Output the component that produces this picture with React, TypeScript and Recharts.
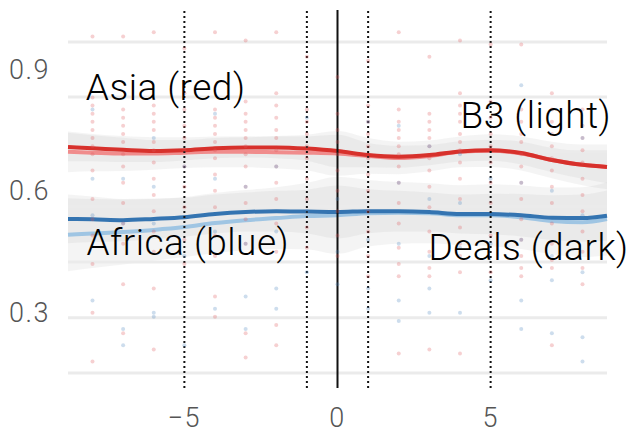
import React from "react";
import {
  ComposedChart,
  Area,
  Line,
  Scatter,
  XAxis,
  YAxis,
  ReferenceLine,
  ReferenceDot,
} from "recharts";

// smoothed curves, sampled along x
const curveXs = [-8.8, -8, -7, -6, -5, -4, -3, -2, -1, 0, 1, 2, 3, 4, 5, 6, 7, 8, 8.8];
const asiaDark = [0.708, 0.705, 0.701, 0.698, 0.700, 0.705, 0.707, 0.707, 0.704, 0.698, 0.688, 0.684, 0.688, 0.697, 0.700, 0.693, 0.676, 0.664, 0.659];
const asiaLight = [0.696, 0.694, 0.692, 0.692, 0.694, 0.696, 0.696, 0.695, 0.694, 0.692, 0.686, 0.681, 0.686, 0.696, 0.699, 0.692, 0.676, 0.664, 0.659];
const africaDark = [0.531, 0.530, 0.528, 0.531, 0.535, 0.543, 0.548, 0.550, 0.549, 0.548, 0.550, 0.550, 0.548, 0.543, 0.543, 0.540, 0.534, 0.533, 0.539];
const africaLight = [0.492, 0.495, 0.499, 0.504, 0.511, 0.521, 0.528, 0.533, 0.538, 0.540, 0.545, 0.546, 0.545, 0.540, 0.540, 0.535, 0.526, 0.523, 0.531];

// confidence band half widths
const asiaDarkHalf = [0.035, 0.032, 0.03, 0.027, 0.025, 0.025, 0.025, 0.027, 0.03, 0.04, 0.03, 0.027, 0.025, 0.025, 0.026, 0.028, 0.03, 0.034, 0.04];
const asiaLightHalf = [0.05, 0.046, 0.043, 0.04, 0.038, 0.038, 0.038, 0.04, 0.044, 0.055, 0.044, 0.04, 0.038, 0.038, 0.04, 0.042, 0.045, 0.05, 0.055];
const africaDarkHalf = [0.06, 0.056, 0.052, 0.05, 0.048, 0.048, 0.048, 0.05, 0.054, 0.065, 0.054, 0.05, 0.048, 0.048, 0.05, 0.052, 0.055, 0.058, 0.062];
const africaLightHalf = [0.09, 0.085, 0.08, 0.076, 0.074, 0.074, 0.074, 0.076, 0.082, 0.095, 0.082, 0.076, 0.074, 0.074, 0.076, 0.078, 0.082, 0.086, 0.09];

// raw observations per integer x
const dotXs = [-8, -7, -6, -5, -4, -3, -2, -1, 0, 1, 2, 3, 4, 5, 6, 7, 8];
const redDots = [
  [0.98, 0.83, 0.81, 0.79, 0.77, 0.75, 0.73, 0.71, 0.69, 0.65, 0.58, 0.53, 0.49, 0.42, 0.3, 0.18],
  [0.98, 0.8, 0.78, 0.76, 0.74, 0.72, 0.69, 0.66, 0.62, 0.57, 0.52, 0.47, 0.37, 0.25],
  [0.99, 0.81, 0.79, 0.77, 0.75, 0.72, 0.7, 0.67, 0.63, 0.59, 0.55, 0.5, 0.45, 0.36, 0.21],
  [0.95, 0.84, 0.8, 0.76, 0.73, 0.7, 0.66, 0.61, 0.56, 0.48, 0.42],
  [0.99, 0.8, 0.78, 0.76, 0.74, 0.72, 0.7, 0.68, 0.64, 0.6, 0.56, 0.49, 0.44, 0.34, 0.29],
  [0.97, 0.82, 0.79, 0.77, 0.75, 0.73, 0.71, 0.69, 0.66, 0.61, 0.57, 0.53, 0.47, 0.25, 0.19],
  [0.99, 0.84, 0.81, 0.78, 0.75, 0.73, 0.7, 0.66, 0.62, 0.58, 0.52, 0.45, 0.27, 0.22],
  [0.93, 0.8, 0.77, 0.74, 0.71, 0.68, 0.63, 0.58, 0.51, 0.46],
  [0.88, 0.79, 0.75, 0.72, 0.69, 0.65, 0.6, 0.55, 0.49, 0.44],
  [0.92, 0.81, 0.77, 0.74, 0.71, 0.68, 0.64, 0.6, 0.55, 0.5, 0.44, 0.39],
  [0.99, 0.8, 0.77, 0.75, 0.73, 0.71, 0.69, 0.66, 0.62, 0.57, 0.52, 0.46, 0.42, 0.39, 0.2],
  [0.93, 0.79, 0.77, 0.75, 0.73, 0.71, 0.68, 0.65, 0.61, 0.56, 0.5, 0.45, 0.41, 0.39, 0.21],
  [0.97, 0.84, 0.81, 0.79, 0.77, 0.74, 0.72, 0.7, 0.67, 0.63, 0.58, 0.51, 0.47, 0.44, 0.4, 0.2],
  [0.96, 0.82, 0.78, 0.74, 0.71, 0.67, 0.62, 0.57, 0.49, 0.4],
  [0.96, 0.8, 0.77, 0.74, 0.72, 0.69, 0.66, 0.62, 0.58, 0.53, 0.48, 0.44, 0.41, 0.39],
  [0.84, 0.8, 0.77, 0.74, 0.71, 0.68, 0.65, 0.61, 0.57, 0.52, 0.47, 0.43, 0.41, 0.22],
  [0.8, 0.76, 0.73, 0.7, 0.67, 0.63, 0.59, 0.55, 0.5, 0.45, 0.41, 0.37],
];
const blueDots = [
  [0.8, 0.63, 0.54, 0.33],
  [0.63, 0.52, 0.26, 0.22],
  [0.73, 0.61, 0.52, 0.3, 0.29],
  [0.66, 0.44, 0.22],
  [0.79, 0.63, 0.5, 0.31],
  [0.61, 0.47, 0.34, 0.26],
  [0.66, 0.5, 0.36, 0.31],
  [0.78, 0.55, 0.4],
  [0.58, 0.45, 0.37],
  [0.77, 0.48, 0.36, 0.31],
  [0.76, 0.62, 0.47, 0.33, 0.28],
  [0.71, 0.58, 0.44, 0.36, 0.3],
  [0.69, 0.57, 0.46, 0.3],
  [0.63, 0.47, 0.38],
  [0.86, 0.62, 0.48, 0.33, 0.26],
  [0.6, 0.44, 0.38, 0.25],
  [0.73, 0.54, 0.4, 0.24, 0.18],
];

const xTicks = [-5, 0, 5];
const yTicks = [0.3, 0.6, 0.9];
const gridValues = [0.152, 0.288, 0.425, 0.561, 0.696, 0.831, 0.966];
const dottedCutoffs = [-5, -1, 1, 5];

const noteTexts = ["Asia (red)", "B3 (light)", "Africa (blue)", "Deals (dark)"];
const noteXs = [-8.22, 4.02, -8.2, 2.97];
const noteYs = [0.824, 0.755, 0.443, 0.43];

const rows = curveXs.map((x, i) => ({
  x,
  asiaDark: asiaDark[i],
  asiaLight: asiaLight[i],
  africaDark: africaDark[i],
  africaLight: africaLight[i],
  asiaDarkBand: [asiaDark[i] - asiaDarkHalf[i], asiaDark[i] + asiaDarkHalf[i]],
  asiaLightBand: [asiaLight[i] - asiaLightHalf[i], asiaLight[i] + asiaLightHalf[i]],
  africaDarkBand: [africaDark[i] - africaDarkHalf[i], africaDark[i] + africaDarkHalf[i]],
  africaLightBand: [africaLight[i] - africaLightHalf[i], africaLight[i] + africaLightHalf[i]],
}));

const redPoints = dotXs.flatMap((x, i) => redDots[i].map((y) => ({ x, y })));
const bluePoints = dotXs.flatMap((x, i) => blueDots[i].map((y) => ({ x, y })));

const FONT = "Roboto, 'Liberation Sans', sans-serif";
const fmtTick = (v: number) => (v < 0 ? `\u2212${Math.abs(v)}` : `${v}`);
const tickStyle = { fill: "#555", fontSize: 27, fontFamily: FONT, fontWeight: 300, letterSpacing: 1.5 };

const Dot = (color: string) => (p: any) =>
  <circle cx={p.cx} cy={p.cy} r={2} fill={color} fillOpacity={0.28} />;

export default function App() {
  return (
    <div style={{ position: "absolute", left: 0, top: 0, width: 634, height: 436, background: "#fff" }}>
      <ComposedChart
        width={634}
        height={436}
        data={rows}
        margin={{ top: 10, right: 27, bottom: 0, left: 8 }}
      >
        <XAxis
          dataKey="x"
          type="number"
          domain={[-8.8, 8.8]}
          ticks={xTicks}
          tickFormatter={fmtTick}
          axisLine={false}
          tickLine={false}
          tickSize={0}
          tickMargin={20}
          height={48}
          tick={tickStyle}
        />
        <YAxis
          type="number"
          domain={[0.115, 1.045]}
          ticks={yTicks}
          axisLine={false}
          tickLine={false}
          tickSize={0}
          tickMargin={18}
          width={60}
          tick={tickStyle}
        />

        {gridValues.map((v) => (
          <ReferenceLine key={v} y={v} stroke="#ebebeb" strokeWidth={3} />
        ))}

        {/* confidence bands */}
        <Area dataKey="africaLightBand" type="monotone" stroke="none" fill="#b8b8b8" fillOpacity={0.15} isAnimationActive={false} />
        <Area dataKey="africaDarkBand" type="monotone" stroke="none" fill="#b8b8b8" fillOpacity={0.15} isAnimationActive={false} />
        <Area dataKey="asiaLightBand" type="monotone" stroke="none" fill="#b8b8b8" fillOpacity={0.15} isAnimationActive={false} />
        <Area dataKey="asiaDarkBand" type="monotone" stroke="none" fill="#b8b8b8" fillOpacity={0.15} isAnimationActive={false} />

        <Scatter data={redPoints} dataKey="y" shape={Dot("#e0575b")} isAnimationActive={false} />
        <Scatter data={bluePoints} dataKey="y" shape={Dot("#4a86c0")} isAnimationActive={false} />

        <Line dataKey="asiaLight" type="monotone" stroke="#f08c8c" strokeWidth={4} dot={false} isAnimationActive={false} />
        <Line dataKey="asiaDark" type="monotone" stroke="#d7312c" strokeWidth={4} dot={false} isAnimationActive={false} />
        <Line dataKey="africaLight" type="monotone" stroke="#9fc5e3" strokeWidth={4} dot={false} isAnimationActive={false} />
        <Line dataKey="africaDark" type="monotone" stroke="#3474b1" strokeWidth={4} dot={false} isAnimationActive={false} />

        {dottedCutoffs.map((x) => (
          <ReferenceLine key={x} x={x} stroke="#111" strokeWidth={2} strokeDasharray="2 3" />
        ))}
        <ReferenceLine x={0} stroke="#111" strokeWidth={2} />

        {noteTexts.map((t, i) => (
          <ReferenceDot
            key={t}
            x={noteXs[i]}
            y={noteYs[i]}
            r={0}
            shape={(p: any) => (
              <text x={p.cx} y={p.cy} fill="#000" fontSize={37} fontFamily={FONT} fontWeight={300} letterSpacing={0.5}>
                {t}
              </text>
            )}
          />
        ))}
      </ComposedChart>
    </div>
  );
}
